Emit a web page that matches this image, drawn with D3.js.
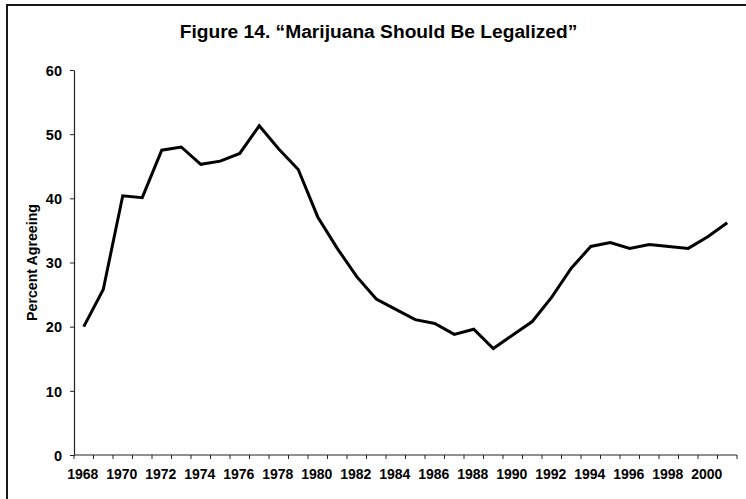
<!DOCTYPE html>
<html>
<head>
<meta charset="utf-8">
<script src="https://cdn.jsdelivr.net/npm/d3@7"></script>
<style>
  html, body { margin: 0; padding: 0; background: #fff; }
  svg { display: block; }
  text { font-family: "Liberation Sans", Arial, Helvetica, sans-serif; font-weight: bold; fill: #000; }
</style>
</head>
<body>
<svg id="chart" width="746" height="499"></svg>
<script>
const years = d3.range(1968, 2002);
const percentAgreeing = [
  20.0, 25.8, 40.4, 40.1, 47.5, 48.0, 45.3, 45.8, 47.0, 51.3,
  47.7, 44.5, 37.1, 32.2, 27.8, 24.3, 22.7, 21.1, 20.5, 18.8,
  19.6, 16.6, 18.7, 20.8, 24.6, 29.1, 32.5, 33.1, 32.2, 32.8,
  32.5, 32.2, 34.0, 36.2
];
const yTicks = [0, 10, 20, 30, 40, 50, 60];
const xTickLabels = d3.range(1968, 2001, 2);
const titleText = "Figure 14. \u201CMarijuana Should Be Legalized\u201D";
const yTitle = "Percent Agreeing";

const svg = d3.select("#chart");
const mLeft = 74, mRight = 737, mTop = 70, mBottom = 455;

// frame
svg.append("rect").attr("x", 7).attr("y", 5).attr("width", 760).attr("height", 520)
  .attr("fill", "none").attr("stroke", "#000").attr("stroke-width", 1.8);

const x = d3.scaleBand().domain(years).range([mLeft, mRight]);
const y = d3.scaleLinear().domain([0, 60]).range([mBottom, mTop]);

// y axis
const yAxis = svg.append("g").attr("transform", `translate(${mLeft},0)`)
  .call(d3.axisLeft(y).tickValues(yTicks).tickSize(4).tickPadding(8).tickSizeOuter(0));
yAxis.select(".domain").attr("stroke", "#222").attr("stroke-width", 1.2);
yAxis.selectAll(".tick line").attr("stroke", "#222");
yAxis.selectAll(".tick text").style("font-size", "14.5px").attr("dy", "0.36em");

// x axis with ticks between categories
const xAxisG = svg.append("g").attr("transform", `translate(0,${mBottom})`);
xAxisG.append("line").attr("x1", mLeft).attr("x2", mRight).attr("y1", 0).attr("y2", 0)
  .attr("stroke", "#222").attr("stroke-width", 1.2);
const boundaries = years.map(d => x(d)).concat([x(years[years.length - 1]) + x.bandwidth()]);
xAxisG.selectAll("line.tk").data(boundaries).enter().append("line").attr("class", "tk")
  .attr("x1", d => d).attr("x2", d => d).attr("y1", 0).attr("y2", 4)
  .attr("stroke", "#222").attr("stroke-width", 1);
xAxisG.selectAll("text.lbl").data(xTickLabels).enter().append("text").attr("class", "lbl")
  .attr("x", d => x(d) + x.bandwidth() / 2 - 1).attr("y", 24)
  .attr("text-anchor", "middle").style("font-size", "14px").text(d => d);

// line
const line = d3.line().x((d, i) => x(years[i]) + x.bandwidth() / 2).y(d => y(d));
svg.append("path").datum(percentAgreeing).attr("d", line)
  .attr("fill", "none").attr("stroke", "#000").attr("stroke-width", 3).attr("stroke-linejoin", "miter");

// title
svg.append("text").attr("x", 378.5).attr("y", 37.5).attr("text-anchor", "middle")
  .style("font-size", "19.2px").text(titleText);

// y title
svg.append("text").attr("transform", `translate(37,${(mTop + mBottom) / 2}) rotate(-90)`)
  .attr("text-anchor", "middle").style("font-size", "14.2px").text(yTitle);
</script>
</body>
</html>
